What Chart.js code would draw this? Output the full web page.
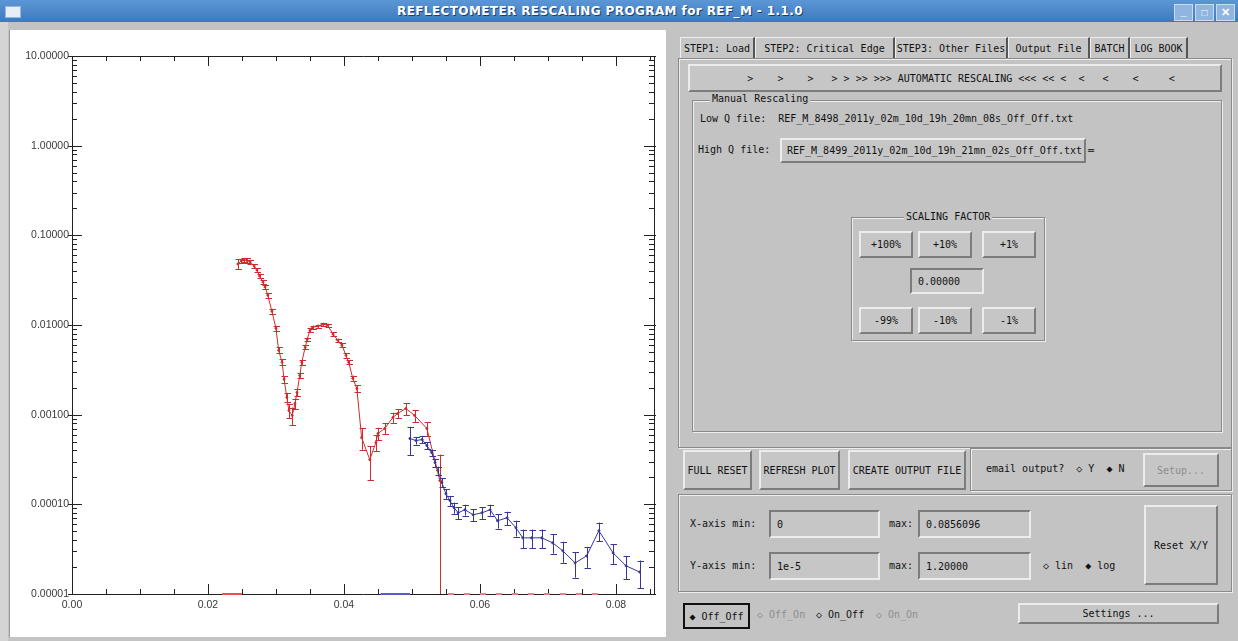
<!DOCTYPE html>
<html>
<head>
<meta charset="utf-8">
<script src="https://cdn.jsdelivr.net/npm/chart.js@4.4.1/dist/chart.umd.min.js"></script>
<style>
  body { margin: 0; width: 1238px; height: 641px; overflow: hidden; background: #c3c3c3; position: relative;
         font-family: "DejaVu Sans Mono", monospace; font-size: 10px; color: #111; }
  .abs { position: absolute; white-space: pre; }
  .titlebar { left: 0; top: 0; width: 1238px; height: 22px; background: linear-gradient(#5b97d6, #3f79bd); }
  .title { left: 0; width: 1200px; top: 4px; text-align: center; color: #fff; font: bold 12px "DejaVu Sans", sans-serif;
           text-shadow: 1px 1px 0 #1d3f6a; letter-spacing: 0.4px; }
  .raised { background: #c6c6c6; border: 2px solid; border-color: #ececec #7c7c7c #7c7c7c #ececec; box-sizing: border-box;
            display: flex; align-items: center; justify-content: center; }
  .sunken { background: #c6c6c6; border: 2px solid; border-color: #7c7c7c #ececec #ececec #7c7c7c; box-sizing: border-box;
            display: flex; align-items: center; padding-left: 6px; }
  .frame { border: 1px solid #8a8a8a; box-shadow: inset 1px 1px 0 #eeeeee, 1px 1px 0 #eeeeee; box-sizing: border-box; }
  .legend { background: #c3c3c3; padding: 0 2px; }
  .tab { top: 37px; height: 21px; border-top: 1px solid #eee; border-left: 1px solid #eee; border-right: 2px solid #555;
         box-sizing: border-box; display: flex; align-items: center; justify-content: center; background: #c6c6c6; }
  .grey { color: #8e8e8e; }
</style>
</head>
<body>
<div class="abs titlebar"></div>
<div class="abs" style="left:5px;top:6px;width:14px;height:10px;background:#e6eef8;border:1px solid #9cb6d6;"></div>
<div class="abs title">REFLECTOMETER RESCALING PROGRAM for REF_M - 1.1.0</div>
<div class="abs" style="left:1174px;top:4px;width:17px;height:15px;background:#8fb5e0;border:1px solid #c9dcf2;color:#fff;font:bold 11px sans-serif;text-align:center;">_</div>
<div class="abs" style="left:1195px;top:4px;width:17px;height:15px;background:#8fb5e0;border:1px solid #c9dcf2;color:#fff;font:bold 10px sans-serif;text-align:center;line-height:15px;">□</div>
<div class="abs" style="left:1216px;top:4px;width:17px;height:15px;background:#8fb5e0;border:1px solid #c9dcf2;color:#fff;font:bold 11px sans-serif;text-align:center;line-height:15px;">✕</div>

<!-- plot panel -->
<div class="abs" style="left:0;top:22px;width:8px;height:619px;background:#d4d4d4;"></div>
<div class="abs" style="left:9px;top:30px;width:656px;height:607px;background:#fff;border-left:1px solid #9a9a9a;"></div>
<div class="abs" style="left:0;top:22px;width:666px;height:620px;"><canvas id="plot"></canvas></div>

<!-- tabs -->
<div class="abs tab" style="left:680px;width:75px;">STEP1: Load</div>
<div class="abs tab" style="left:755px;width:140px;">STEP2: Critical Edge</div>
<div class="abs tab" style="left:895px;width:113px;">STEP3: Other Files</div>
<div class="abs tab" style="left:1008px;width:82px;">Output File</div>
<div class="abs tab" style="left:1090px;width:40px;">BATCH</div>
<div class="abs tab" style="left:1130px;width:58px;">LOG BOOK</div>
<div class="abs frame" style="left:678px;top:58px;width:554px;height:390px;"></div>
<div class="abs raised" style="left:688px;top:64px;width:534px;height:28px;">  &gt;    &gt;    &gt;   &gt; &gt; &gt;&gt; &gt;&gt;&gt; AUTOMATIC RESCALING &lt;&lt;&lt; &lt;&lt; &lt;  &lt;   &lt;    &lt;     &lt;</div>

<div class="abs frame" style="left:692px;top:100px;width:530px;height:332px;"></div>
<div class="abs legend" style="left:710px;top:93px;">Manual Rescaling</div>
<div class="abs" style="left:700px;top:113px;">Low Q file:  REF_M_8498_2011y_02m_10d_19h_20mn_08s_Off_Off.txt</div>
<div class="abs" style="left:698px;top:144px;">High Q file:</div>
<div class="abs raised" style="left:780px;top:138px;width:306px;height:25px;justify-content:flex-start;padding-left:5px;">REF_M_8499_2011y_02m_10d_19h_21mn_02s_Off_Off.txt ═</div>

<div class="abs frame" style="left:851px;top:217px;width:194px;height:124px;"></div>
<div class="abs legend" style="left:904px;top:211px;">SCALING FACTOR</div>
<div class="abs raised" style="left:859px;top:231px;width:54px;height:27px;">+100%</div>
<div class="abs raised" style="left:918px;top:231px;width:54px;height:27px;">+10%</div>
<div class="abs raised" style="left:982px;top:231px;width:54px;height:27px;">+1%</div>
<div class="abs sunken" style="left:910px;top:268px;width:74px;height:26px;">0.00000</div>
<div class="abs raised" style="left:859px;top:307px;width:54px;height:27px;">-99%</div>
<div class="abs raised" style="left:918px;top:307px;width:54px;height:27px;">-10%</div>
<div class="abs raised" style="left:982px;top:307px;width:54px;height:27px;">-1%</div>

<!-- bottom controls -->
<div class="abs raised" style="left:683px;top:450px;width:69px;height:40px;">FULL RESET</div>
<div class="abs raised" style="left:759px;top:450px;width:81px;height:40px;">REFRESH PLOT</div>
<div class="abs raised" style="left:848px;top:450px;width:118px;height:40px;">CREATE OUTPUT FILE</div>
<div class="abs frame" style="left:970px;top:448px;width:262px;height:43px;"></div>
<div class="abs" style="left:986px;top:463px;">email output?  ◇ Y  ◆ N</div>
<div class="abs raised grey" style="left:1143px;top:453px;width:76px;height:34px;">Setup...</div>

<div class="abs frame" style="left:678px;top:494px;width:554px;height:98px;"></div>
<div class="abs" style="left:690px;top:518px;">X-axis min:</div>
<div class="abs sunken" style="left:769px;top:510px;width:111px;height:28px;">0</div>
<div class="abs" style="left:889px;top:518px;">max:</div>
<div class="abs sunken" style="left:918px;top:510px;width:113px;height:28px;">0.0856096</div>
<div class="abs" style="left:690px;top:560px;">Y-axis min:</div>
<div class="abs sunken" style="left:769px;top:552px;width:111px;height:28px;">1e-5</div>
<div class="abs" style="left:889px;top:560px;">max:</div>
<div class="abs sunken" style="left:918px;top:552px;width:113px;height:28px;">1.20000</div>
<div class="abs" style="left:1043px;top:560px;">◇ lin  ◆ log</div>
<div class="abs raised" style="left:1144px;top:505px;width:74px;height:80px;">Reset X/Y</div>

<div class="abs" style="left:683px;top:603px;width:67px;height:26px;border:2px solid #111;box-sizing:border-box;display:flex;align-items:center;justify-content:center;">◆ Off_Off</div>
<div class="abs grey" style="left:757px;top:609px;">◇ Off_On</div>
<div class="abs" style="left:816px;top:609px;">◇ On_Off</div>
<div class="abs grey" style="left:876px;top:609px;">◇ On_On</div>
<div class="abs raised" style="left:1018px;top:603px;width:201px;height:21px;">Settings ...</div>

<script>
// low Q file (red) : Q, R, dR
const qLow = [0.0244, 0.0249, 0.0253, 0.0257, 0.0262, 0.0268, 0.0272, 0.0276, 0.0281, 0.0284,
              0.0288, 0.0294, 0.0300, 0.0304, 0.0309, 0.0312, 0.0316, 0.0319, 0.0324, 0.0328,
              0.0331, 0.0335, 0.0338, 0.0343, 0.0346, 0.0350, 0.0354, 0.0362, 0.0369, 0.0376,
              0.0384, 0.0391, 0.0397, 0.0403, 0.0407, 0.0413, 0.0419, 0.0426, 0.0438, 0.0447,
              0.0450, 0.0460, 0.0472, 0.0479, 0.0491, 0.0504, 0.0522, 0.0541];
const rLow = [0.0479, 0.0518, 0.0531, 0.0527, 0.0504, 0.0455, 0.0410, 0.0352, 0.0301, 0.0265,
              0.0215, 0.01426, 0.00920, 0.00522, 0.00384, 0.00248, 0.00156, 0.00111, 0.00098, 0.00133,
              0.00177, 0.00274, 0.00384, 0.00565, 0.00693, 0.00875, 0.00944, 0.00970, 0.0102, 0.00995,
              0.00789, 0.00676, 0.00594, 0.00459, 0.00384, 0.00254, 0.00196, 0.000556, 0.000315, 0.000489,
              0.000616, 0.000701, 0.000931, 0.00103, 0.00117, 0.00098, 0.000701, 0.000184];
const eLow = [0.006, 0.003, 0.003, 0.003, 0.003, 0.0025, 0.0022, 0.002, 0.0018, 0.0016,
              0.0013, 0.0009, 0.0006, 0.0004, 0.0003, 0.0002, 0.00018, 0.0002, 0.00022, 0.00018,
              0.00016, 0.0002, 0.00025, 0.0003, 0.0003, 0.0004, 0.0004, 0.0004, 0.0004, 0.0004,
              0.0004, 0.0003, 0.0003, 0.00025, 0.0002, 0.00018, 0.00016, 0.00015, 0.00013, 0.0001,
              0.0001, 0.0001, 0.00012, 0.00012, 0.00018, 0.00015, 0.00012, 0.000175];

// high Q file (blue)
const qHigh = [0.0497, 0.0506, 0.0515, 0.0522, 0.0529, 0.0534, 0.0538, 0.0544, 0.0550, 0.0556,
               0.0562, 0.0568, 0.0578, 0.0590, 0.0603, 0.0615, 0.0626, 0.0640, 0.0653, 0.0663,
               0.0676, 0.0691, 0.0707, 0.0722, 0.0740, 0.0757, 0.0775, 0.0796, 0.0815, 0.0835];
const rHigh = [0.000542, 0.000514, 0.000528, 0.000452, 0.000378, 0.000292, 0.000238, 0.000175, 0.000131, 0.000110,
               0.0000916, 0.0000805, 0.0000870, 0.0000765, 0.0000805, 0.0000870, 0.0000656, 0.0000708, 0.0000547, 0.0000423,
               0.0000423, 0.0000423, 0.0000372, 0.0000303, 0.0000222, 0.0000266, 0.0000507, 0.0000287, 0.0000206, 0.0000176];
const eHigh = [0.00019, 0.00005, 0.00005, 0.00004, 0.00003, 0.00003, 0.000025, 0.00002, 0.000016, 0.000014,
               0.000013, 0.000012, 0.000012, 0.000012, 0.000012, 0.000012, 0.000012, 0.000012, 0.000011, 0.00001,
               0.00001, 0.00001, 0.000009, 0.000008, 0.000007, 0.000007, 0.000012, 0.000007, 0.000006, 0.000006];

// points below the plotted range, drawn on the floor of the plot
const qLowFloor = [0.0221, 0.0250];
const qHighFloor = [0.0454, 0.0497];
const qLowTail = [0.0553, 0.0779];

const yTickValues = [0.00001, 0.0001, 0.001, 0.01, 0.1, 1, 10];
const yTickLabels = ["0.00001", "0.00010", "0.00100", "0.01000", "0.10000", "1.00000", "10.00000"];
const xTickValues = [0, 0.02, 0.04, 0.06, 0.08];
const xTickLabels = ["0.00", "0.02", "0.04", "0.06", "0.08"];
const xMin = 0, xMax = 0.0856096, yMin = 0.00001, yMax = 10;

const red = "rgb(205, 45, 45)", blue = "rgb(55, 55, 155)";

function pts(xs, ys) { return xs.map((x, i) => ({x: x, y: ys[i]})); }
function floor(xs) { return xs.map(x => ({x: x, y: yMin})); }

// error bars with little caps
const errorBars = {
    id: "errorBars",
    afterDatasetsDraw(chart) {
        const ctx = chart.ctx, a = chart.chartArea;
        const xs = chart.scales.x, ys = chart.scales.y;
        ctx.save();
        ctx.beginPath();
        ctx.rect(a.left, a.top, a.right - a.left, a.bottom - a.top);
        ctx.clip();
        chart.data.datasets.forEach(ds => {
            if (!ds.errors) return;
            ctx.strokeStyle = ds.borderColor;
            ctx.lineWidth = 1;
            ctx.beginPath();
            ds.data.forEach((p, i) => {
                const e = ds.errors[i];
                const px = Math.round(xs.getPixelForValue(p.x)) + 0.5;
                const lo = p.y - e > 0 ? p.y - e : yMin / 2;
                const top = ys.getPixelForValue(p.y + e);
                const bot = ys.getPixelForValue(lo);
                ctx.moveTo(px, top); ctx.lineTo(px, bot);
                ctx.moveTo(px - 3, Math.round(top) + 0.5); ctx.lineTo(px + 3.5, Math.round(top) + 0.5);
                ctx.moveTo(px - 3, Math.round(bot) + 0.5); ctx.lineTo(px + 3.5, Math.round(bot) + 0.5);
            });
            ctx.stroke();
        });
        ctx.restore();
    }
};

// IDL style box with inward ticks, drawn under the data
const frameTicks = {
    id: "frameTicks",
    beforeDatasetsDraw(chart) {
        const ctx = chart.ctx, a = chart.chartArea;
        const xs = chart.scales.x, ys = chart.scales.y;
        ctx.save();
        ctx.strokeStyle = "#222";
        ctx.lineWidth = 1;
        ctx.beginPath();
        ctx.rect(Math.round(a.left) + 0.5, Math.round(a.top) + 0.5, Math.round(a.right - a.left), Math.round(a.bottom - a.top));
        for (let i = 0; i * 0.005 <= xMax; i++) {
            const px = Math.round(xs.getPixelForValue(i * 0.005)) + 0.5;
            const len = i % 4 === 0 ? 10 : 5;
            ctx.moveTo(px, a.bottom); ctx.lineTo(px, a.bottom - len);
            ctx.moveTo(px, a.top); ctx.lineTo(px, a.top + len);
        }
        for (let e = -5; e <= 1; e++) {
            for (let k = 1; k <= 9; k++) {
                const v = k * Math.pow(10, e);
                if (v > yMax * 1.0001) break;
                const py = Math.round(ys.getPixelForValue(v)) + 0.5;
                const len = k === 1 ? 10 : 5;
                ctx.moveTo(a.left - (k === 1 ? 4 : 0), py); ctx.lineTo(a.left + len, py);
                ctx.moveTo(a.right + (k === 1 ? 2 : 0), py); ctx.lineTo(a.right - len, py);
            }
        }
        ctx.stroke();
        ctx.restore();
    }
};

const config = {
    type: "scatter",
    data: {
        datasets: [
            { label: "Low Q", data: pts(qLow, rLow), errors: eLow, showLine: true, borderColor: red,
              backgroundColor: red, borderWidth: 1, pointRadius: 1, tension: 0 },
            { label: "High Q", data: pts(qHigh, rHigh), errors: eHigh, showLine: true, borderColor: blue,
              backgroundColor: blue, borderWidth: 1, pointRadius: 1, tension: 0 },
            { label: "low floor", data: floor(qLowFloor), showLine: true, borderColor: "rgb(235,80,80)", borderWidth: 2,
              pointRadius: 0, clip: 3 },
            { label: "high floor", data: floor(qHighFloor), showLine: true, borderColor: "rgb(90,90,210)", borderWidth: 2,
              pointRadius: 0, clip: 3 },
            { label: "low tail", data: floor(qLowTail), showLine: true, borderColor: "rgb(240,120,140)", borderWidth: 2,
              borderDash: [6, 10], pointRadius: 0, clip: 3 }
        ]
    },
    options: {
        responsive: true,
        maintainAspectRatio: false,
        animation: false,
        layout: { padding: { top: 34, right: 12, bottom: 26, left: 0 } },
        plugins: { legend: { display: false }, tooltip: { enabled: false } },
        scales: {
            x: {
                type: "linear", min: xMin, max: xMax,
                afterBuildTicks: axis => { axis.ticks = xTickValues.map(v => ({value: v})); },
                afterFit: axis => { axis.height = 22; },
                grid: { display: false, drawTicks: false },
                border: { display: false },
                ticks: { padding: 5, color: "#3a3a3a", font: { family: "Liberation Sans", size: 10.5 },
                         callback: (v, i) => xTickLabels[i], maxRotation: 0 }
            },
            y: {
                type: "logarithmic", min: yMin, max: yMax,
                afterBuildTicks: axis => { axis.ticks = yTickValues.map(v => ({value: v})); },
                afterFit: axis => { axis.width = 72; },
                grid: { display: false, drawTicks: false },
                border: { display: false },
                ticks: { padding: 3, color: "#3a3a3a", font: { family: "Liberation Sans", size: 10.5 },
                         callback: (v, i) => yTickLabels[i] }
            }
        }
    },
    plugins: [errorBars, frameTicks]
};

new Chart(document.getElementById("plot"), config);
</script>
</body>
</html>
